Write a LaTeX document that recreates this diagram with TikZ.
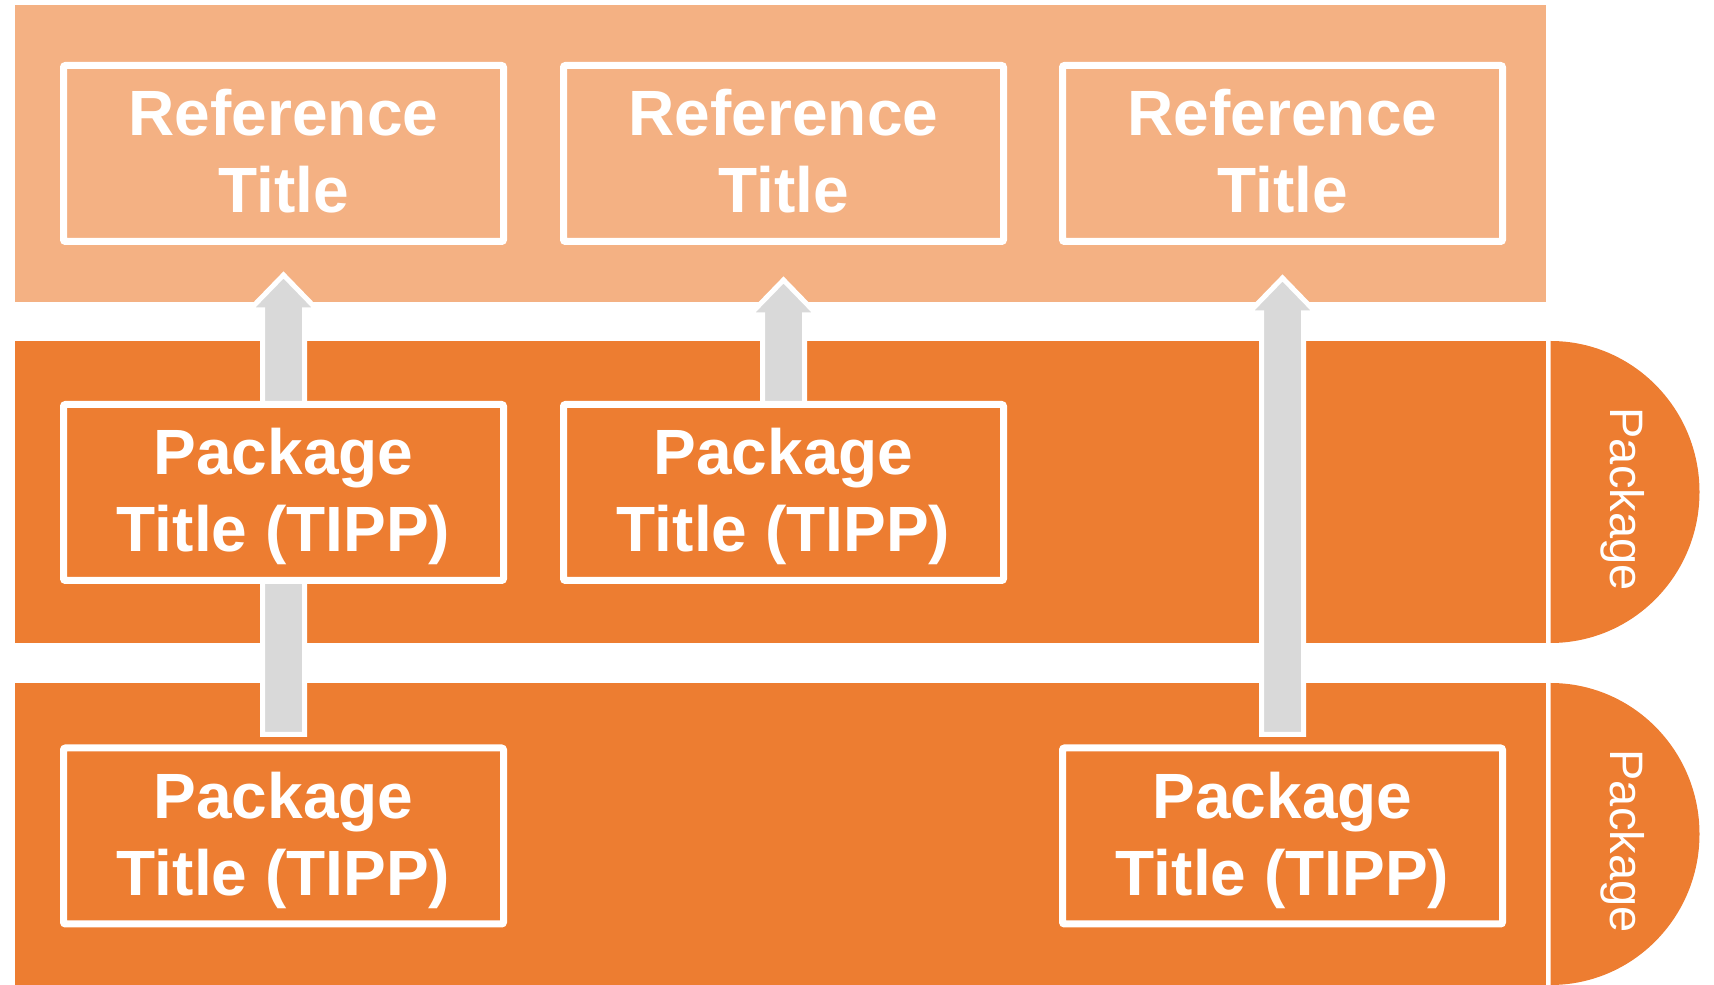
\documentclass[tikz,border=0pt]{standalone}
\usepackage{fontspec}
\setmainfont{Liberation Sans}
\usetikzlibrary{calc}
\definecolor{lightor}{HTML}{F4B183}
\definecolor{darkor}{HTML}{ED7D31}
\definecolor{arrgray}{HTML}{D9D9D9}
\pgfdeclarelayer{bands}
\pgfdeclarelayer{arrows}
\pgfsetlayers{bands,arrows,main}
\newcommand\blockarrow[4]{%
  \path[arrowshape] let \p1=(#1.north), \p2=(#2.south) in
    (\x1-21pt,\y1+#3pt) -- (\x1-21pt,\y2-#4pt-35pt) -- (\x1-34pt,\y2-#4pt-35pt)
    -- (\x1,\y2-#4pt) -- (\x1+34pt,\y2-#4pt-35pt) -- (\x1+21pt,\y2-#4pt-35pt)
    -- (\x1+21pt,\y1+#3pt) -- cycle;}
\newcommand\pkgtext{\rule{0pt}{55pt}Package\\Title (TIPP)}
\newcommand\reftext{Reference\\Title\rule[-4.6pt]{0pt}{4.6pt}}
\begin{document}
\begin{tikzpicture}[x=1pt,y=1pt,
  boxbase/.style={draw=white, line width=7pt, rounded corners=2pt,
    minimum width=440pt, minimum height=176pt, inner sep=0pt, align=center,
    text=white, font=\fontsize{64}{77}\selectfont\bfseries},
  refbox/.style={boxbase, fill=lightor},
  pkgbox/.style={boxbase, fill=darkor},
  sidelabel/.style={text=white, rotate=-90, inner sep=0pt,
    font=\fontsize{47}{56}\selectfont},
  arrowshape/.style={fill=arrgray, draw=white, line width=5pt}]
\useasboundingbox (0,0) rectangle (1714,985);
\begin{pgfonlayer}{bands}
  \fill[lightor] (15,683) rectangle (1546,980);
  \fill[darkor] (15,342) rectangle (1545.5,644);
  \fill[darkor] (1550.5,644) arc[start angle=90, end angle=-90, x radius=149, y radius=151] -- cycle;
  \fill[darkor] (15,0) rectangle (1545.5,302);
  \fill[darkor] (1550.5,302) arc[start angle=90, end angle=-90, x radius=149, y radius=151] -- cycle;
\end{pgfonlayer}
\node[sidelabel] (side1) at (1623,486) {Package};
\node[sidelabel] (side2) at (1623,144) {Package};
\node[refbox] (r1) at (283.5,831.5) {\reftext};
\node[refbox] (r2) at (783.5,831.5) {\reftext};
\node[refbox] (r3) at (1282.5,831.5) {\reftext};
\node[pkgbox] (p1) at (283.5,492.5) {\pkgtext};
\node[pkgbox] (p2) at (783.5,492.5) {\pkgtext};
\node[pkgbox] (q1) at (283.5,149) {\pkgtext};
\node[pkgbox] (q3) at (1282.5,149) {\pkgtext};
\begin{pgfonlayer}{arrows}
  \blockarrow{q1}{r1}{10}{30}
  \blockarrow{p2}{r2}{-5}{35}
  \blockarrow{q3}{r3}{10}{33}
\end{pgfonlayer}
\end{tikzpicture}
\end{document}
